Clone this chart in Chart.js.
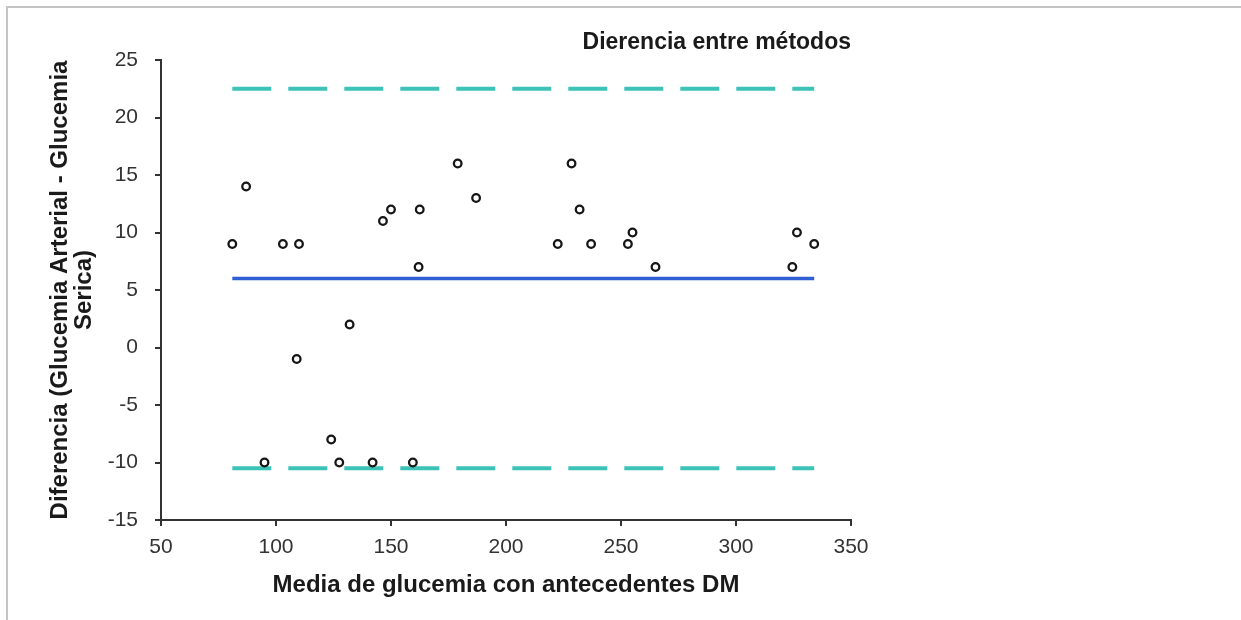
<!DOCTYPE html>
<html lang="es">
<head>
    <meta charset="UTF-8">
    <title>Dierencia entre métodos</title>
    <style>
        body { margin: 0; background: #fff; }
        .frame {
            position: absolute; top: 6px; left: 6px; right: 0; bottom: 0;
            border-top: 2px solid #c4c4c4; border-left: 2px solid #c4c4c4;
        }
        .chart-box { position: absolute; top: 0; left: 0; width: 1241px; height: 620px; }
    </style>
</head>
<body>
    <div class="frame"></div>
    <div class="chart-box">
        <canvas id="blandAltman"></canvas>
    </div>
    <script src="https://cdn.jsdelivr.net/npm/chart.js"></script>
    <script>
        // media de glucemia (x) y diferencia arterial - serica (y)
        const mediaGlucemia = [81, 87, 95, 103, 110, 109, 124, 127.5, 132, 142, 146.5, 150, 162.5, 162, 159.5,
            179, 187, 222.5, 228.5, 232, 237, 253, 255, 265, 324.5, 326.5, 334];
        const diferencia = [9, 14, -10, 9, 9, -1, -8, -10, 2, -10, 11, 12, 12, 7, -10,
            16, 13, 9, 16, 12, 9, 9, 10, 7, 7, 10, 9];

        const rangoX = [81, 334];
        const mediaDif = [6, 6];
        const limiteSup = [22.5, 22.5];
        const limiteInf = [-10.5, -10.5];

        const xTicks = [50, 100, 150, 200, 250, 300, 350];
        const yTicks = [-15, -10, -5, 0, 5, 10, 15, 20, 25];

        const toPoints = (xs, ys) => xs.map((x, i) => ({ x: x, y: ys[i] }));
        const axisColor = '#333333';

        const ctx = document.getElementById('blandAltman').getContext('2d');
        const chart = new Chart(ctx, {
            type: 'scatter',
            data: {
                datasets: [
                    {
                        label: 'Diferencia',
                        data: toPoints(mediaGlucemia, diferencia),
                        pointRadius: 3.8,
                        pointBorderWidth: 2.3,
                        pointBorderColor: '#161616',
                        pointBackgroundColor: '#ffffff',
                        order: 0
                    },
                    {
                        type: 'line',
                        label: 'Media',
                        data: toPoints(rangoX, mediaDif),
                        borderColor: '#2f5ed4',
                        borderWidth: 3.5,
                        pointRadius: 0,
                        order: 1
                    },
                    {
                        type: 'line',
                        label: 'Limite superior',
                        data: toPoints(rangoX, limiteSup),
                        borderColor: '#3cc2b6',
                        borderWidth: 4,
                        borderDash: [39, 17],
                        pointRadius: 0,
                        order: 1
                    },
                    {
                        type: 'line',
                        label: 'Limite inferior',
                        data: toPoints(rangoX, limiteInf),
                        borderColor: '#3cc2b6',
                        borderWidth: 4,
                        borderDash: [39, 17],
                        pointRadius: 0,
                        order: 1
                    }
                ]
            },
            options: {
                responsive: true,
                maintainAspectRatio: false,
                animation: false,
                layout: {
                    padding: { left: 0, right: 390, top: 0, bottom: 0 }
                },
                plugins: {
                    legend: { display: false },
                    tooltip: { enabled: false },
                    title: {
                        display: true,
                        text: 'Dierencia entre métodos',
                        align: 'end',
                        fullSize: false,
                        color: '#1a1a1a',
                        font: { family: 'Liberation Sans', size: 23, weight: 'bold', lineHeight: 1.2 },
                        padding: { top: 29.2, bottom: 3.2 }
                    }
                },
                scales: {
                    x: {
                        type: 'linear',
                        min: 50,
                        max: 350,
                        afterBuildTicks: s => { s.ticks = xTicks.map(v => ({ value: v })); },
                        afterFit: s => { s.height = 100; },
                        border: { color: axisColor, width: 2 },
                        grid: { drawOnChartArea: false, drawTicks: true, tickLength: 6, color: axisColor, lineWidth: 2 },
                        ticks: {
                            color: '#333333',
                            padding: 9,
                            maxRotation: 0,
                            font: { family: 'Liberation Sans', size: 21 }
                        },
                        title: {
                            display: true,
                            text: 'Media de glucemia con antecedentes DM',
                            color: '#1a1a1a',
                            font: { family: 'Liberation Sans', size: 24, weight: 'bold', lineHeight: 1.2 },
                            padding: { top: 0, bottom: 20 }
                        }
                    },
                    y: {
                        type: 'linear',
                        min: -15,
                        max: 25,
                        afterBuildTicks: s => { s.ticks = yTicks.map(v => ({ value: v })); },
                        afterFit: s => { s.width = 161; },
                        border: { color: axisColor, width: 2 },
                        grid: { drawOnChartArea: false, drawTicks: true, tickLength: 6, color: axisColor, lineWidth: 2 },
                        ticks: {
                            color: '#333333',
                            padding: 17,
                            font: { family: 'Liberation Sans', size: 21 }
                        },
                        title: {
                            display: true,
                            text: ['Diferencia (Glucemia Arterial - Glucemia', 'Serica)'],
                            color: '#1a1a1a',
                            font: { family: 'Liberation Sans', size: 24, weight: 'bold', lineHeight: 1.0 },
                            padding: { top: 48, bottom: 0 }
                        }
                    }
                }
            }
        });
    </script>
</body>
</html>
